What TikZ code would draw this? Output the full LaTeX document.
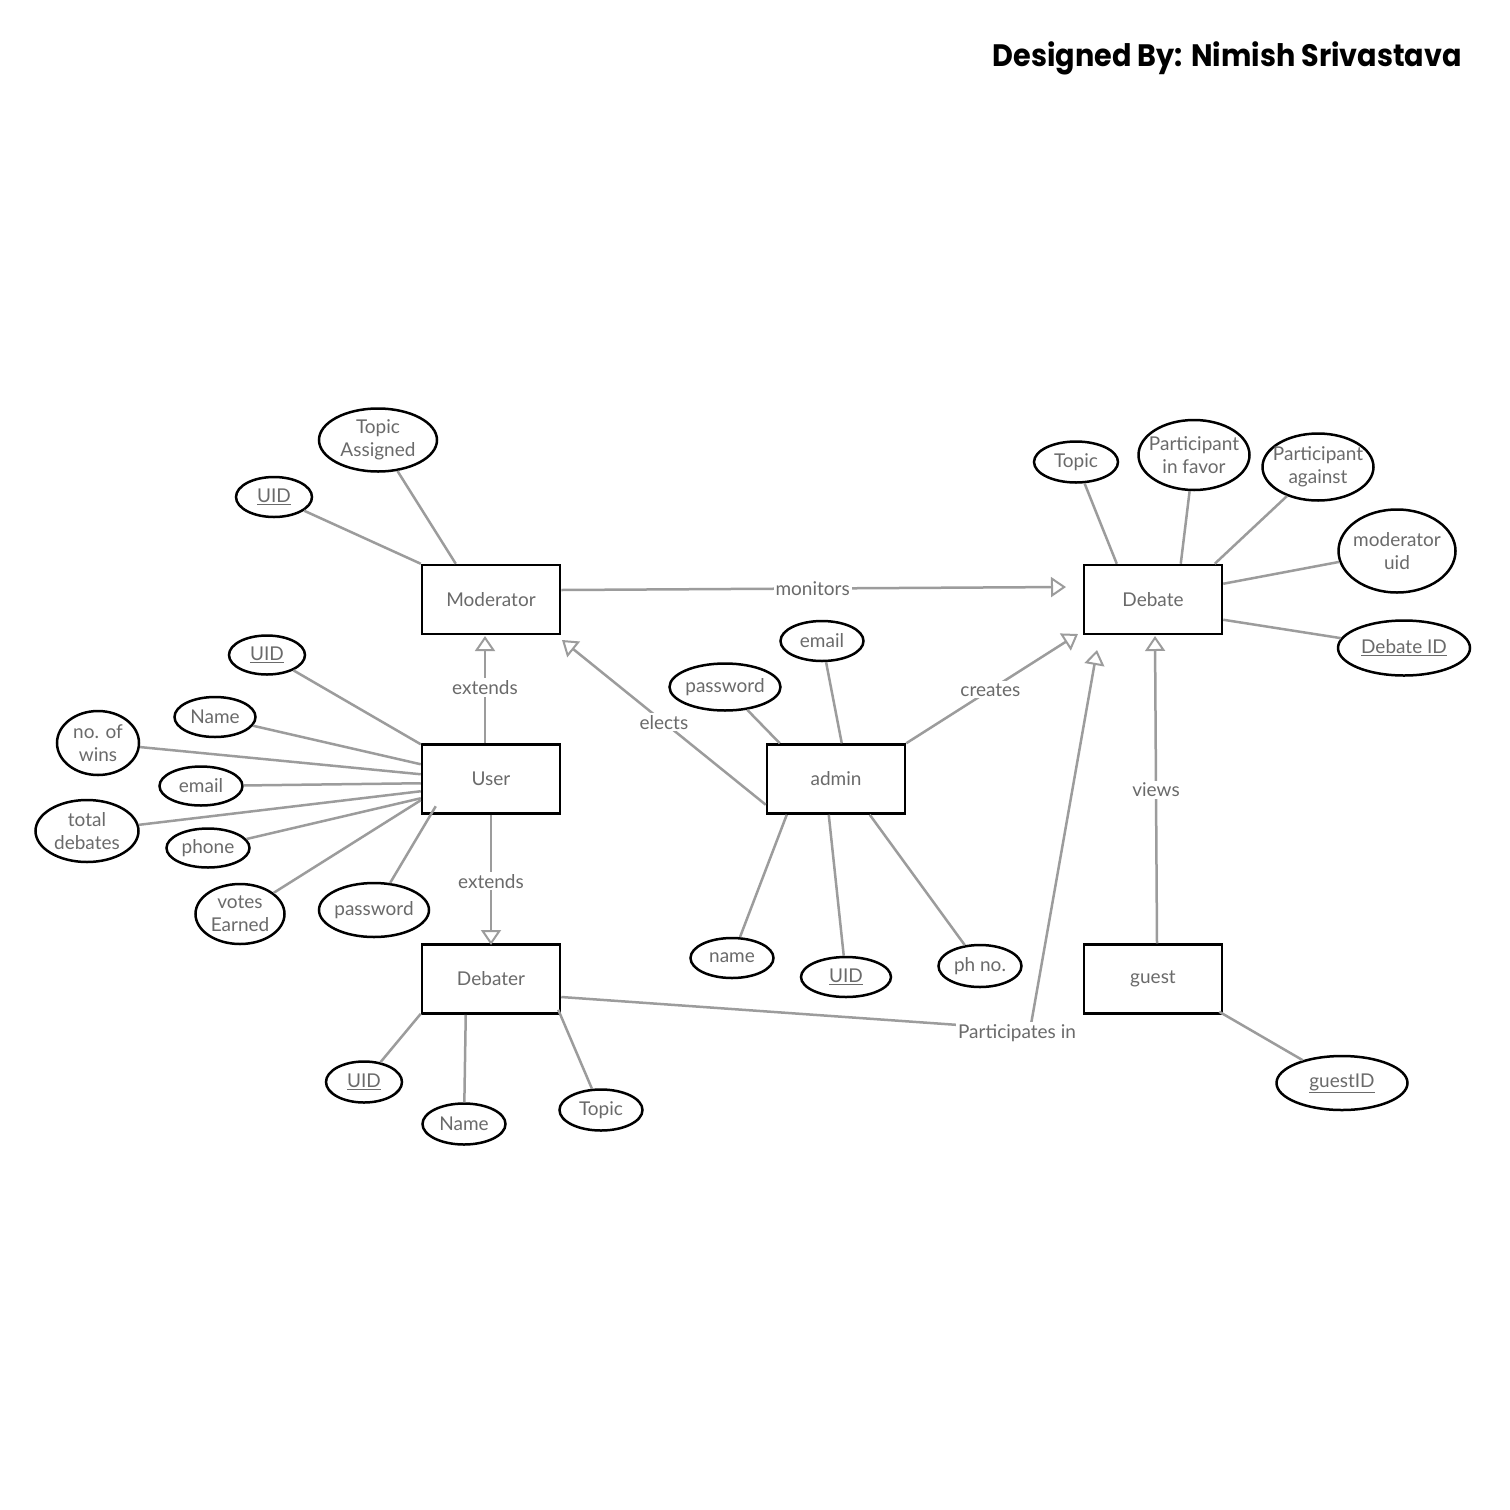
\documentclass[tikz,border=0pt]{standalone}
\usepackage{fontspec}
\usetikzlibrary{shapes.geometric,arrows.meta,calc}
\newfontfamily\latofont{Lato}
\newfontfamily\titlefont{Poppins}
\definecolor{txtgray}{HTML}{6A6A6A}
\definecolor{lngray}{HTML}{9C9C9C}
\newcommand{\zl}[1]{\makebox[0pt][c]{#1}}
\tikzset{
  ent/.style={draw=black, line width=2.5pt, minimum width=138pt, minimum height=69pt, inner sep=0pt,
    font=\latofont\fontsize{19}{23}\selectfont, text=txtgray},
  attr/.style={ellipse, draw=black, line width=2.5pt, inner sep=0pt, align=center,
    font=\latofont\fontsize{19}{23}\selectfont, text=txtgray},
  ln/.style={draw=lngray, line width=2.5pt},
  arr/.style={ln, -{Triangle[open, length=15pt, width=20pt, line width=2pt]}},
  lbl/.style={fill=white, inner sep=2pt, font=\latofont\fontsize{19}{23}\selectfont, text=txtgray}
}
\begin{document}
\begin{tikzpicture}[x=1pt,y=-1pt]
\useasboundingbox (0,0) rectangle (1510,1510);
\fill[white] (0,0) rectangle (1510,1510);

% title
\node[anchor=base east, inner sep=0pt, font=\titlefont\bfseries\fontsize{31}{36}\selectfont] (title) at (1462,66) {\scalebox{0.925}[1]{Designed By: Nimish Srivastava}};

% entities
\node[ent] (mod) at (491,599.5) {Moderator};
\node[ent] (user) at (491,779) {User};
\node[ent] (debater) at (491,979) {Debater};
\node[ent] (admin) at (836,779) {admin};
\node[ent] (debate) at (1153,599.5) {Debate};
\node[ent] (guest) at (1153,979) {guest};

% moderator attributes
\node[attr, minimum width=118pt, minimum height=63pt] (mtopic) at (378,440) {\zl{Topic}\\\zl{Assigned}};
\node[attr, minimum width=76pt, minimum height=40pt] (muid) at (274,497) {\zl{\underline{UID}}};

% user attributes
\node[attr, minimum width=76pt, minimum height=39pt] (uuid) at (267,655) {\zl{\underline{UID}}};
\node[attr, minimum width=81pt, minimum height=40pt] (uname) at (215,717) {\zl{Name}};
\node[attr, minimum width=82pt, minimum height=64pt] (uwins) at (98,743) {\zl{no. of}\\\zl{wins}};
\node[attr, minimum width=83pt, minimum height=39pt] (uemail) at (201,786) {\zl{email}};
\node[attr, minimum width=103pt, minimum height=62pt] (utotal) at (87,831) {\zl{total}\\\zl{debates}};
\node[attr, minimum width=83pt, minimum height=39pt] (uphone) at (208,848) {\zl{phone}};
\node[attr, minimum width=89pt, minimum height=60pt] (uvotes) at (240,914) {\zl{votes}\\\zl{Earned}};
\node[attr, minimum width=110pt, minimum height=54pt] (upass) at (374,910) {\zl{password}};

% debater attributes
\node[attr, minimum width=76pt, minimum height=41pt] (duid) at (364,1082) {\zl{\underline{UID}}};
\node[attr, minimum width=83pt, minimum height=41pt] (dname) at (464,1124) {\zl{Name}};
\node[attr, minimum width=83pt, minimum height=41pt] (dtopic) at (601,1110) {\zl{Topic}};

% admin attributes
\node[attr, minimum width=83pt, minimum height=40pt] (aemail) at (822,641) {\zl{email}};
\node[attr, minimum width=111pt, minimum height=47pt] (apass) at (725,687) {\zl{password}};
\node[attr, minimum width=83pt, minimum height=40pt] (aname) at (732,958) {\zl{name}};
\node[attr, minimum width=90pt, minimum height=40pt] (auid) at (846,977) {\zl{\underline{UID}}};
\node[attr, minimum width=83pt, minimum height=42pt] (aph) at (980,966) {\zl{ph no.}};

% debate attributes
\node[attr, minimum width=84pt, minimum height=41pt] (btopic) at (1076,462) {\zl{Topic}};
\node[attr, minimum width=111pt, minimum height=70pt] (bfavor) at (1194,455) {\zl{Participant}\\\zl{in favor}};
\node[attr, minimum width=111pt, minimum height=67pt] (bagainst) at (1318,467) {\zl{Participant}\\\zl{against}};
\node[attr, minimum width=117pt, minimum height=83pt] (bmuid) at (1397,551) {\zl{moderator}\\\zl{uid}};
\node[attr, minimum width=132pt, minimum height=55pt] (bid) at (1404,648) {\zl{\underline{Debate ID}}};

% guest attribute
\node[attr, minimum width=131pt, minimum height=54pt] (gid) at (1342,1083) {\zl{\underline{guestID}}};

% attribute connectors
\draw[ln] (muid) -- (mod.north west);
\draw[ln] (mtopic) -- ($(mod.north west)+(35,0)$);

\draw[ln] (uuid) -- ($(user.north west)+(0,1)$);
\draw[ln] (uname) -- ($(user.north west)+(0,21)$);
\draw[ln] (uwins) -- ($(user.north west)+(0,31)$);
\draw[ln] (uemail) -- ($(user.north west)+(0,40)$);
\draw[ln] (utotal) -- ($(user.north west)+(0,48)$);
\draw[ln] (uphone) -- ($(user.north west)+(0,55)$);
\draw[ln] (uvotes) -- ($(user.north west)+(0,57)$);
\draw[ln] (upass) -- ($(user.north west)+(15,63)$);

\draw[ln] (duid) -- ($(debater.south west)+(0,-1)$);
\draw[ln] (dname) -- ($(debater.south west)+(45,0)$);
\draw[ln] (dtopic) -- ($(debater.south east)+(-3,-5)$);

\draw[ln] (apass) -- ($(admin.north west)+(14,0)$);
\draw[ln] (aemail) -- ($(admin.north west)+(76,0)$);
\draw[ln] (aname) -- ($(admin.south west)+(21,0)$);
\draw[ln] (auid) -- ($(admin.south west)+(63,0)$);
\draw[ln] (aph) -- ($(admin.south west)+(104,0)$);

\draw[ln] (btopic) -- ($(debate.north west)+(34,0)$);
\draw[ln] (bfavor) -- ($(debate.north west)+(98,0)$);
\draw[ln] (bagainst) -- ($(debate.north west)+(132,0)$);
\draw[ln] (bmuid) -- ($(debate.north east)+(0,20)$);
\draw[ln] (bid) -- ($(debate.north east)+(0,56)$);

\draw[ln] (gid) -- ($(guest.south east)+(-4,-3)$);

% relationship tips
\coordinate (tmon) at (1066,587);
\coordinate (text1) at (485,636);
\coordinate (text2) at (491,945);
\coordinate (telect) at (562,640);
\coordinate (tcreate) at (1078,634);
\coordinate (tpart) at (1097,650);
\coordinate (tview) at (1155,636);
\coordinate (ppart) at (1030,1030);

% relationships
\draw[arr] ($(mod.east)+(0,-9.5)$) -- node[lbl, pos=0.498] (lmon) {monitors} (tmon);
\draw[arr] ($(user.north)+(-6,0)$) -- node[lbl, pos=0.52] (lext1) {extends} (text1);
\draw[arr] (user.south) -- node[lbl, pos=0.51] (lext2) {extends} (text2);
\draw[arr] ($(admin.south west)+(0,-10)$) -- node[lbl, pos=0.5] (lelect) {elects} (telect);
\draw[arr] (admin.north east) -- node[lbl, pos=0.49] (lcreate) {creates} (tcreate);
\draw[arr] ($(guest.north)+(4,0)$) -- node[lbl, pos=0.5] (lview) {views} (tview);
\draw[arr] ($(debater.east)+(0,18)$) -- (ppart) -- (tpart);
\node[lbl] (lpart) at (1017,1033) {Participates in};
\end{tikzpicture}
\end{document}
